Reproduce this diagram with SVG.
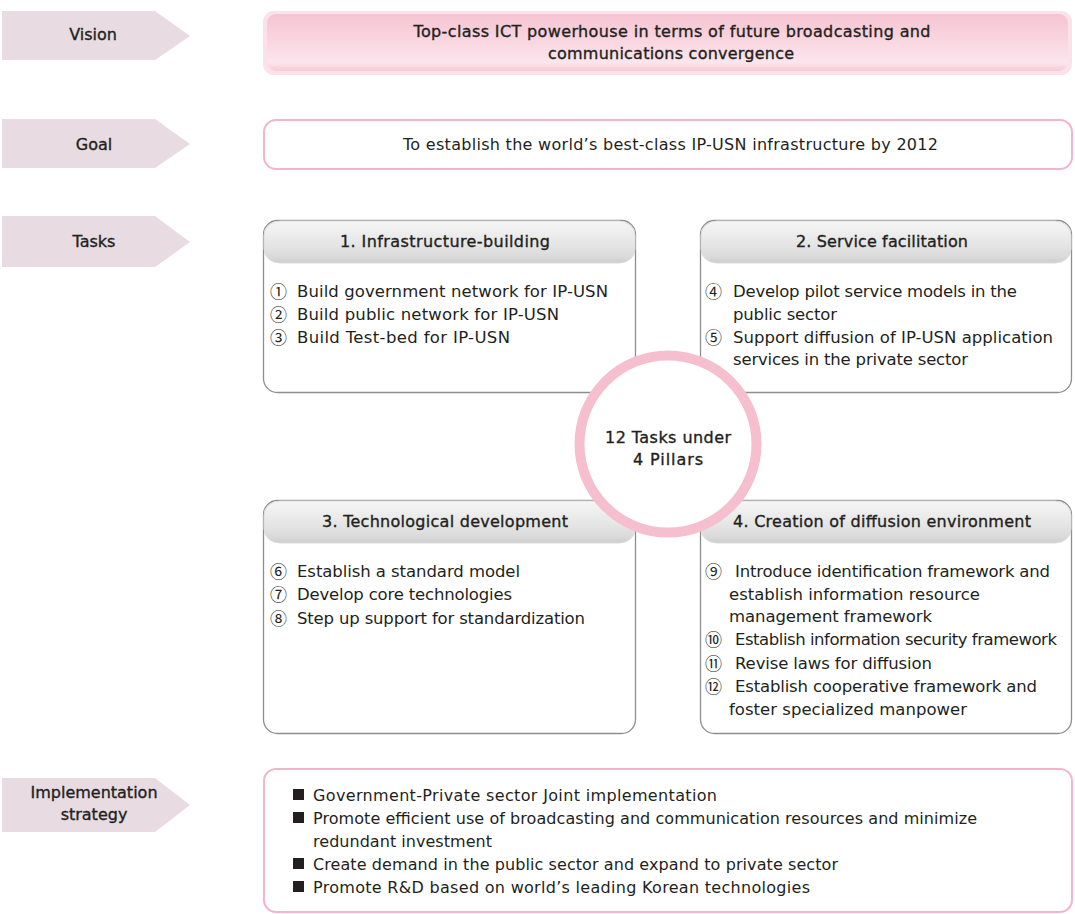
<svg xmlns="http://www.w3.org/2000/svg" width="1075" height="914" viewBox="0 0 1075 914">
<style>
.t{font-family:"DejaVu Sans","Noto Sans CJK JP",sans-serif;font-size:16.5px;fill:#231f20}
.n{font-family:"Noto Sans CJK JP","Noto Sans CJK SC",sans-serif;font-size:17px;fill:#231f20}
.s{font-size:16px}
.h{font-size:16px;stroke:#231f20;stroke-width:0.35}
.c{text-anchor:middle}
.lab{fill:#e8dbe2}
.box{fill:#ffffff;stroke:#8e8e8e;stroke-width:1.3}
.pbox{fill:#ffffff;stroke:#f2b6c8;stroke-width:2}
.band{fill:url(#hg);stroke:#dcdcdc;stroke-width:1}
</style>
<defs>
<linearGradient id="hg" x1="0" y1="0" x2="0" y2="1">
<stop offset="0" stop-color="#f6f6f6"/>
<stop offset="0.6" stop-color="#e4e4e4"/>
<stop offset="0.85" stop-color="#dadada"/>
<stop offset="1" stop-color="#cdcdcd"/>
</linearGradient>
<linearGradient id="vg" x1="0" y1="0" x2="0" y2="1">
<stop offset="0" stop-color="#f6c4d3"/>
<stop offset="0.55" stop-color="#f9d9e3"/>
<stop offset="0.85" stop-color="#fbe6ed"/>
<stop offset="1" stop-color="#f5cad7"/>
</linearGradient>
</defs>

<g id="label-vision">
<polygon class="lab" points="2,11 155,11 190,36 155,60 2,60"/>
<text class="t h c" x="93" y="40">Vision</text>
</g>
<g id="label-goal">
<polygon class="lab" points="2,119 155,119 190,144 155,168 2,168"/>
<text class="t h c" x="94" y="150">Goal</text>
</g>
<g id="label-tasks">
<polygon class="lab" points="2,216 155,216 190,242 155,267 2,267"/>
<text class="t h c" x="94" y="247">Tasks</text>
</g>
<g id="label-impl">
<polygon class="lab" points="2,778 155,778 190,805 155,832 2,832"/>
<text class="t h c" x="94" y="798">Implementation</text>
<text class="t h c" x="94" y="820">strategy</text>
</g>

<g id="vision">
<rect x="263" y="11" width="809" height="64" rx="11" fill="#fbe1e9"/>
<rect x="267" y="14" width="801" height="57" rx="9" fill="url(#vg)"/>
<text class="t h c" x="672" y="37" textLength="517" lengthAdjust="spacing">Top-class ICT powerhouse in terms of future broadcasting and</text>
<text class="t h c" x="671" y="59" textLength="246" lengthAdjust="spacing">communications convergence</text>
</g>

<g id="goal">
<rect class="pbox" x="264" y="120" width="808" height="49" rx="12"/>
<text class="t s c" x="670.5" y="150" textLength="535" lengthAdjust="spacing">To establish the world’s best-class IP-USN infrastructure by 2012</text>
</g>

<g id="task1">
<rect class="box" x="263.5" y="220.5" width="372" height="172" rx="14"/>
<rect class="band" x="264" y="221" width="371" height="42" rx="16" ry="14"/>
<text class="t h c" x="445" y="247" textLength="210" lengthAdjust="spacing">1. Infrastructure-building</text>
<text class="n" x="270" y="298">①</text>
<text class="t" x="297" y="297" textLength="311" lengthAdjust="spacing">Build government network for IP-USN</text>
<text class="n" x="270" y="321">②</text>
<text class="t" x="297" y="320" textLength="262" lengthAdjust="spacing">Build public network for IP-USN</text>
<text class="n" x="270" y="344">③</text>
<text class="t" x="297" y="343" textLength="213" lengthAdjust="spacing">Build Test-bed for IP-USN</text>
</g>

<g id="task2">
<rect class="box" x="700.5" y="220.5" width="371" height="172" rx="14"/>
<rect class="band" x="701" y="221" width="370" height="42" rx="16" ry="14"/>
<text class="t h c" x="882" y="247" textLength="172" lengthAdjust="spacing">2. Service facilitation</text>
<text class="n" x="705" y="298">④</text>
<text class="t" x="733" y="297" textLength="284" lengthAdjust="spacing">Develop pilot service models in the</text>
<text class="t" x="733" y="320" textLength="104" lengthAdjust="spacing">public sector</text>
<text class="n" x="705" y="344">⑤</text>
<text class="t" x="733" y="343" textLength="320" lengthAdjust="spacing">Support diffusion of IP-USN application</text>
<text class="t" x="733" y="365" textLength="235" lengthAdjust="spacing">services in the private sector</text>
</g>

<g id="task3">
<rect class="box" x="263.5" y="500.5" width="372" height="233" rx="14"/>
<rect class="band" x="264" y="501" width="371" height="42" rx="16" ry="14"/>
<text class="t h c" x="445" y="527" textLength="246" lengthAdjust="spacing">3. Technological development</text>
<text class="n" x="270" y="578">⑥</text>
<text class="t" x="297" y="577" textLength="223" lengthAdjust="spacing">Establish a standard model</text>
<text class="n" x="270" y="601">⑦</text>
<text class="t" x="297" y="600" textLength="215" lengthAdjust="spacing">Develop core technologies</text>
<text class="n" x="270" y="625">⑧</text>
<text class="t" x="297" y="624" textLength="288" lengthAdjust="spacing">Step up support for standardization</text>
</g>

<g id="task4">
<rect class="box" x="700.5" y="500.5" width="371" height="233" rx="14"/>
<rect class="band" x="701" y="501" width="370" height="42" rx="16" ry="14"/>
<text class="t h c" x="882" y="527" textLength="298" lengthAdjust="spacing">4. Creation of diffusion environment</text>
<text class="n" x="705" y="578">⑨</text>
<text class="t" x="735" y="577" textLength="315" lengthAdjust="spacing">Introduce identification framework and</text>
<text class="t" x="729" y="600" textLength="251" lengthAdjust="spacing">establish information resource</text>
<text class="t" x="729" y="622" textLength="203" lengthAdjust="spacing">management framework</text>
<text class="n" x="705" y="646">⑩</text>
<text class="t" x="735" y="645" textLength="322" lengthAdjust="spacing">Establish information security framework</text>
<text class="n" x="705" y="670">⑪</text>
<text class="t" x="735" y="669" textLength="197" lengthAdjust="spacing">Revise laws for diffusion</text>
<text class="n" x="705" y="693">⑫</text>
<text class="t" x="735" y="692" textLength="302" lengthAdjust="spacing">Establish cooperative framework and</text>
<text class="t" x="729" y="715" textLength="238" lengthAdjust="spacing">foster specialized manpower</text>
</g>

<g id="hub">
<circle cx="668" cy="444" r="88.5" fill="#ffffff" stroke="#f5bfd0" stroke-width="10"/>
<text class="t h c" x="668" y="443" textLength="126" lengthAdjust="spacing">12 Tasks under</text>
<text class="t h c" x="668" y="465" textLength="70" lengthAdjust="spacing">4 Pillars</text>
</g>

<g id="strategy">
<rect class="pbox" x="264" y="769" width="808" height="143" rx="12"/>
<rect x="293" y="789" width="11" height="11" fill="#231f20"/>
<text class="t s" x="313" y="801" textLength="404" lengthAdjust="spacing">Government-Private sector Joint implementation</text>
<rect x="293" y="812" width="11" height="11" fill="#231f20"/>
<text class="t s" x="313" y="824" textLength="664" lengthAdjust="spacing">Promote efficient use of broadcasting and communication resources and minimize</text>
<text class="t s" x="313" y="847" textLength="179" lengthAdjust="spacing">redundant investment</text>
<rect x="293" y="858" width="11" height="11" fill="#231f20"/>
<text class="t s" x="313" y="870" textLength="525" lengthAdjust="spacing">Create demand in the public sector and expand to private sector</text>
<rect x="293" y="881" width="11" height="11" fill="#231f20"/>
<text class="t s" x="313" y="893" textLength="497" lengthAdjust="spacing">Promote R&amp;D based on world’s leading Korean technologies</text>
</g>

<g id="connectors"/>
</svg>
